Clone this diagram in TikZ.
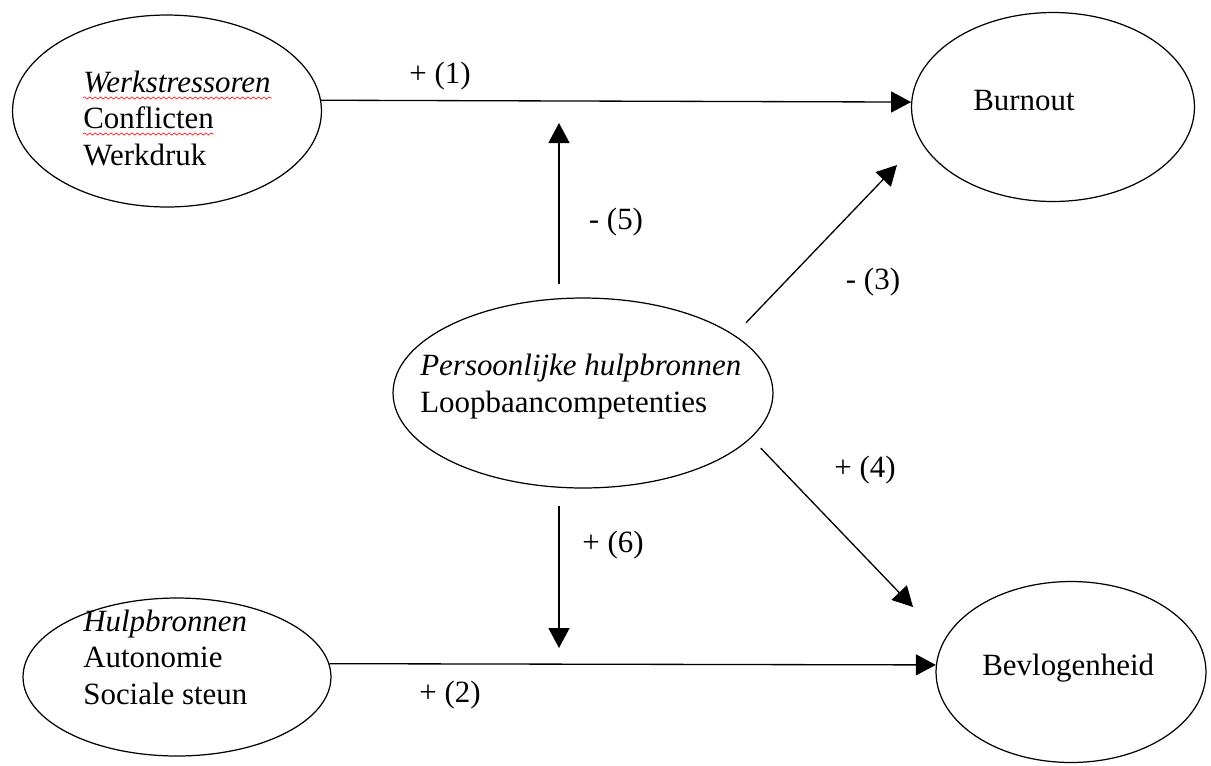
\documentclass[tikz,border=0pt]{standalone}
\usepackage{fontspec}
\setmainfont{Liberation Serif}
\usepackage{xcolor}
\usepackage{tikz}
\usetikzlibrary{shapes.geometric,arrows.meta,decorations.pathmorphing}
\definecolor{spellRed}{HTML}{FF2020}

\tikzset{
construct/.style={draw, ellipse, line width=0.7pt, inner sep=0pt},
itemtext/.style={anchor=base west, inner sep=0pt, align=left, font=\fontsize{17.6}{20.5}\selectfont},
pathlabel/.style={inner sep=0pt, font=\fontsize{17.6}{20.5}\selectfont},
effect/.style={-{Triangle[length=0.4cm,width=0.42cm]}, line width=0.75pt},
spellcheck/.style={spellRed, line width=0.4pt, decorate, decoration={snake, amplitude=0.6pt, segment length=3pt}},
}

\begin{document}
\begin{tikzpicture}[x=0.02cm,y=-0.02cm]
\useasboundingbox (0,0) rectangle (1211,765);

% constructs
\node[construct, minimum width=6.18cm, minimum height=3.84cm] (stress) at (167,111) {};
\node[construct, minimum width=5.66cm, minimum height=3.78cm] (burnout) at (1053,107) {};
\node[construct, minimum width=7.6cm, minimum height=3.8cm] (pers) at (583,393) {};
\node[construct, minimum width=6.16cm, minimum height=3.16cm] (hulp) at (177,677) {};
\node[construct, minimum width=5.4cm, minimum height=3.62cm] (bevl) at (1071,672) {};

% text sits on the baseline of its last line
\node[itemtext] (stresstxt) at (83,165) {\textit{Werkstressoren}\\Conflicten\\Werkdruk};
\node[itemtext] (burnouttxt) at (973,110) {Burnout};
\node[itemtext] (perstxt) at (420,412) {\textit{Persoonlijke hulpbronnen}\\Loopbaancompetenties};
\node[itemtext] (hulptxt) at (83,704) {\textit{Hulpbronnen}\\Autonomie\\Sociale steun};
\node[itemtext] (bevltxt) at (982,675) {Bevlogenheid};

\draw[spellcheck] (83,98) -- (272,98);
\draw[spellcheck] (83,134) -- (214,134);

% free arrow ends
\coordinate (tip5) at (559,123);
\coordinate (tip6) at (559,648);
\coordinate (tip3) at (897,165);
\coordinate (tip4) at (913,607);

\draw[effect] (stress.4) -- (burnout.178);
\draw[effect] (hulp.5) -- (bevl.177);
\draw[effect, shorten <=0.26cm] (pers.north -| tip5) -- (tip5);
\draw[effect, shorten <=0.34cm] (pers.south -| tip6) -- (tip6);
\draw[effect, shorten <=0.34cm] (pers.21) -- (tip3);
\draw[effect, shorten <=0.28cm] (pers.-15) -- (tip4);

\node[pathlabel] (lab1) at (440,76) {+ (1)};
\node[pathlabel] (lab2) at (450,695) {+ (2)};
\node[pathlabel] (lab3) at (873,282) {- (3)};
\node[pathlabel] (lab4) at (865,470) {+ (4)};
\node[pathlabel] (lab5) at (616,222) {- (5)};
\node[pathlabel] (lab6) at (613,545) {+ (6)};
\end{tikzpicture}
\end{document}
